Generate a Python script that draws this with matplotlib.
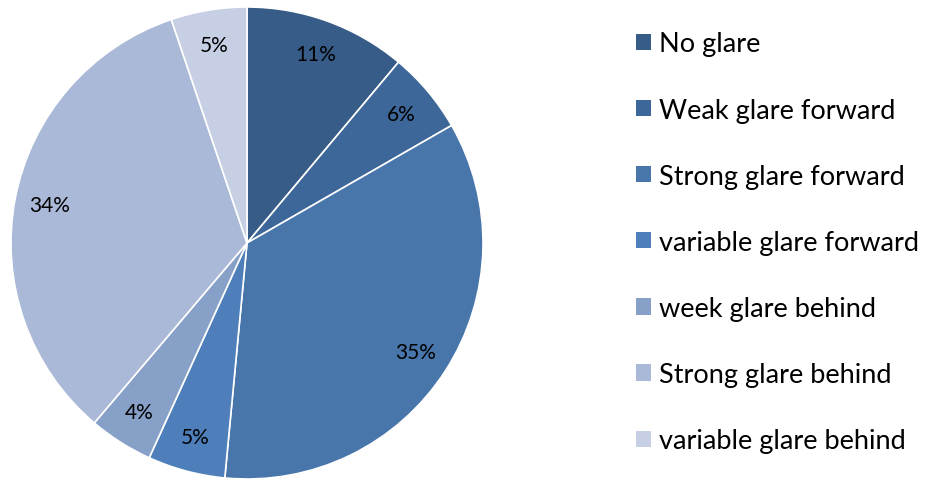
import matplotlib
matplotlib.use("Agg")
import matplotlib.pyplot as plt
from matplotlib.patches import Patch

categories = ["No glare", "Weak glare forward", "Strong glare forward",
              "variable glare forward", "week glare behind",
              "Strong glare behind", "variable glare behind"]
values = [11.1, 5.6, 34.8, 5.3, 4.4, 33.6, 5.2]
colors = ["#365C87", "#3E6799", "#4876AB", "#4E7FBB", "#87A0C8", "#AAB9D7", "#C6CFE3"]

plt.rcParams['font.family'] = ['Lato', 'DejaVu Sans']

fig = plt.figure(figsize=(9.25, 4.81), dpi=100)
ax = fig.add_axes([(247 - 236) / 925, (481 - 244 - 236) / 481, 472 / 925, 472 / 481])
wedges, texts, autotexts = ax.pie(values, colors=colors, startangle=90, counterclock=False,
                                  autopct='%.0f%%', pctdistance=0.85, radius=1,
                                  wedgeprops=dict(edgecolor='white', linewidth=1.2),
                                  textprops=dict(fontsize=15, color='black'))
ax.set_xlim(-1, 1)
ax.set_ylim(-1, 1)
ax.set_aspect('equal')
ax.axis('off')

handles = [Patch(facecolor=c, edgecolor='none') for c in colors]
fig.legend(handles, categories, loc='center left', bbox_to_anchor=(636 / 925, 0.494),
           frameon=False, fontsize=19.5, labelspacing=1.52, handlelength=0.55,
           handleheight=0.55, handletextpad=0.3, borderpad=0, borderaxespad=0)

fig.savefig("out.png", dpi=100)
